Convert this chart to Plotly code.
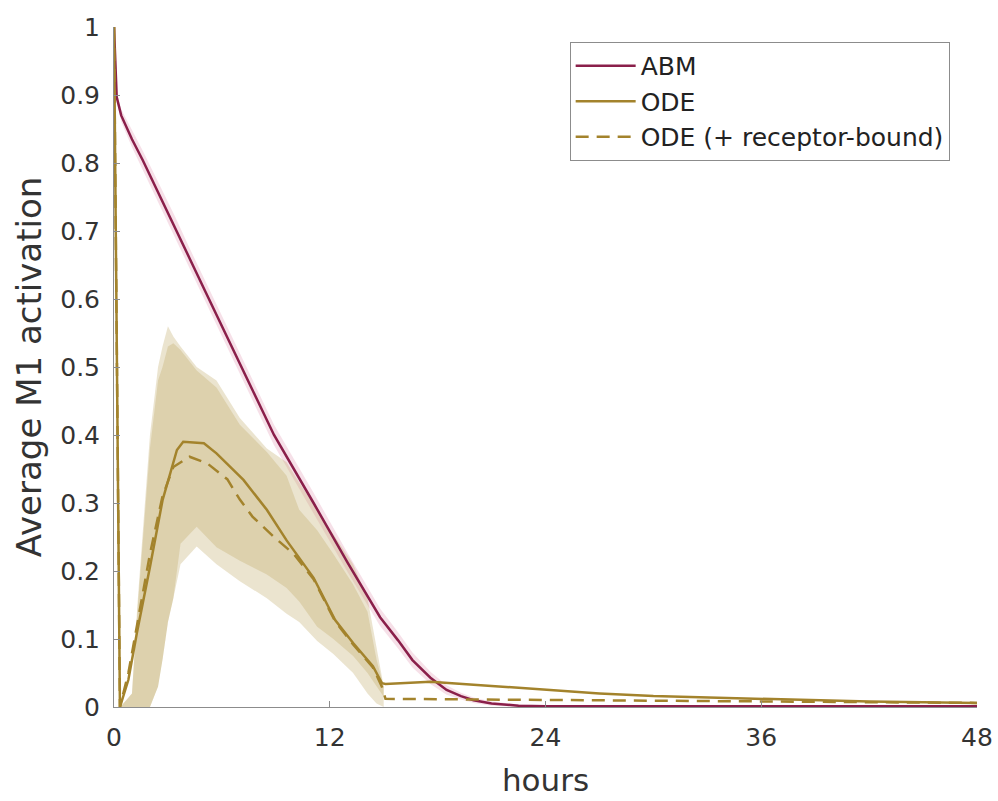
import numpy as np
import plotly.graph_objects as go

# ABM mean and spread (hours, average M1 activation)
abm_t = [0, 0.05, 0.15, 0.4, 0.7, 1.0, 1.6, 2.55, 3.4, 4.2, 5.1, 7.0, 8.9, 11.1, 13.0, 14.8,
         15.8, 16.6, 17.6, 18.5, 19.3, 20, 21, 22.5, 24, 30, 36, 42, 48]
abm_v = [1.0, 0.96, 0.897, 0.87, 0.853, 0.835, 0.804, 0.752, 0.706, 0.66, 0.61, 0.505, 0.40, 0.30,
         0.212, 0.132, 0.098, 0.069, 0.043, 0.025, 0.016, 0.01, 0.005, 0.002, 0.001, 0.001, 0.001,
         0.001, 0.001]
abm_sd = [0, 0.004, 0.006, 0.009, 0.011, 0.012, 0.014, 0.015, 0.015, 0.015, 0.015, 0.015, 0.015,
          0.015, 0.014, 0.013, 0.012, 0.011, 0.009, 0.007, 0.005, 0.004, 0.003, 0.002, 0.001, 0.001,
          0.001, 0.001, 0.001]

# ODE mean
ode_t = [0, 0.33, 0.8, 1.28, 2.0, 2.7, 3.5, 3.85, 5.0, 5.7, 7.2, 8.5, 9.6, 11.1, 12.3, 13.3, 14.4,
         14.9, 15.1, 17.6, 21, 24, 27, 30, 36, 42, 48]
ode_v = [1, 0, 0.04, 0.11, 0.206, 0.304, 0.378, 0.39, 0.388, 0.373, 0.334, 0.29, 0.245, 0.19, 0.128,
         0.094, 0.06, 0.035, 0.034, 0.037, 0.031, 0.025, 0.02, 0.016, 0.012, 0.008, 0.006]

# ODE (+ receptor-bound) mean
odeb_t = [0, 0.33, 0.8, 1.3, 2.0, 2.7, 3.3, 4.2, 5.2, 6.3, 7.0, 7.7, 8.9, 10.0, 11.1, 12.3, 13.3,
          14.4, 14.9, 15.1, 20, 24, 30, 36, 42, 48]
odeb_v = [1, 0, 0.05, 0.125, 0.225, 0.31, 0.353, 0.368, 0.358, 0.335, 0.305, 0.28, 0.25, 0.225,
          0.188, 0.126, 0.092, 0.058, 0.03, 0.012, 0.011, 0.01, 0.009, 0.008, 0.007, 0.006]

# ODE spread bands (two overlapping envelopes)
band_t = [0.35, 1.0, 1.3, 1.7, 2.0, 2.45, 2.7, 3.0, 3.3, 3.7, 4.6, 5.7, 7.0, 8.5, 9.6, 10.3, 11.3,
          12.2, 13.3, 14.1, 14.6, 15.0]
ode_hi = [0, 0.02, 0.15, 0.30, 0.40, 0.50, 0.53, 0.56, 0.545, 0.53, 0.50, 0.48, 0.425, 0.38, 0.36,
          0.33, 0.29, 0.255, 0.21, 0.16, 0.09, 0.03]
ode_lo = [0, 0, 0, 0, 0, 0.03, 0.07, 0.125, 0.16, 0.24, 0.265, 0.235, 0.215, 0.195, 0.175, 0.155,
          0.118, 0.10, 0.075, 0.05, 0.03, 0.015]
odeb_hi = [0, 0.02, 0.14, 0.28, 0.38, 0.48, 0.50, 0.53, 0.535, 0.525, 0.495, 0.47, 0.415, 0.375,
           0.34, 0.29, 0.26, 0.225, 0.18, 0.14, 0.07, 0.03]
odeb_lo = [0, 0, 0, 0, 0, 0.03, 0.07, 0.125, 0.16, 0.21, 0.236, 0.21, 0.185, 0.16, 0.137, 0.125,
           0.097, 0.078, 0.05, 0.02, 0.005, 0]

x_ticks = [0, 12, 24, 36, 48]
y_ticks = [0, 0.1, 0.2, 0.3, 0.4, 0.5, 0.6, 0.7, 0.8, 0.9, 1]

RED = "#8a1f4a"
GOLD = "#a3832c"
FONT = "DejaVu Sans, Liberation Sans, sans-serif"


def banda(fig, t, lo, hi, color):
    t = list(t)
    fig.add_trace(go.Scatter(
        x=t + t[::-1], y=list(hi) + list(lo)[::-1],
        fill="toself", fillcolor=color, line=dict(width=0),
        mode="lines", showlegend=False, hoverinfo="skip"
    ))


fig = go.Figure()

abm = np.array(abm_v)
sd = np.array(abm_sd)
banda(fig, abm_t, abm - sd, abm + sd, "rgba(220,130,165,0.25)")
banda(fig, band_t, ode_lo, ode_hi, "rgba(190,164,95,0.30)")
banda(fig, band_t, odeb_lo, odeb_hi, "rgba(190,164,95,0.30)")

fig.add_trace(go.Scatter(x=abm_t, y=abm_v, mode="lines", name="ABM",
                         line=dict(color=RED, width=2.5)))
fig.add_trace(go.Scatter(x=ode_t, y=ode_v, mode="lines", name="ODE",
                         line=dict(color=GOLD, width=2.5)))
fig.add_trace(go.Scatter(x=odeb_t, y=odeb_v, mode="lines", name="ODE (+ receptor-bound)",
                         line=dict(color=GOLD, width=2.5, dash="13px,8px")))

fig.update_layout(
    width=998, height=801,
    paper_bgcolor="white", plot_bgcolor="white",
    margin=dict(l=114, r=21, t=27, b=94),
    font=dict(family=FONT, size=25, color="#333333"),
    legend=dict(
        x=0.528, y=0.978, xanchor="left", yanchor="top",
        bgcolor="white", bordercolor="#8c8c8c", borderwidth=1,
        font=dict(size=25, color="#222222"),
        itemwidth=60
    ),
    xaxis=dict(
        range=[0, 48], tickvals=x_ticks, ticktext=[str(v) for v in x_ticks],
        showline=True, linecolor="#8c8c8c", linewidth=1,
        ticks="inside", ticklen=6, tickcolor="#8c8c8c",
        ticklabelstandoff=8, automargin=False,
        showgrid=False, zeroline=False,
        title=dict(text="hours", font=dict(size=31), standoff=18)
    ),
    yaxis=dict(
        range=[0, 1], tickvals=y_ticks, ticktext=[f"{v:g}" for v in y_ticks],
        showline=True, linecolor="#8c8c8c", linewidth=1,
        ticks="inside", ticklen=6, tickcolor="#8c8c8c",
        ticklabelstandoff=8, automargin=False,
        showgrid=False, zeroline=False,
        title=dict(text="Average M1 activation", font=dict(size=34), standoff=8)
    ),
)

# the page's default 8px body margin would push the figure past the window edge
fig.write_html("out.html", config={"displayModeBar": False},
               post_script="document.body.style.margin = '0';")
